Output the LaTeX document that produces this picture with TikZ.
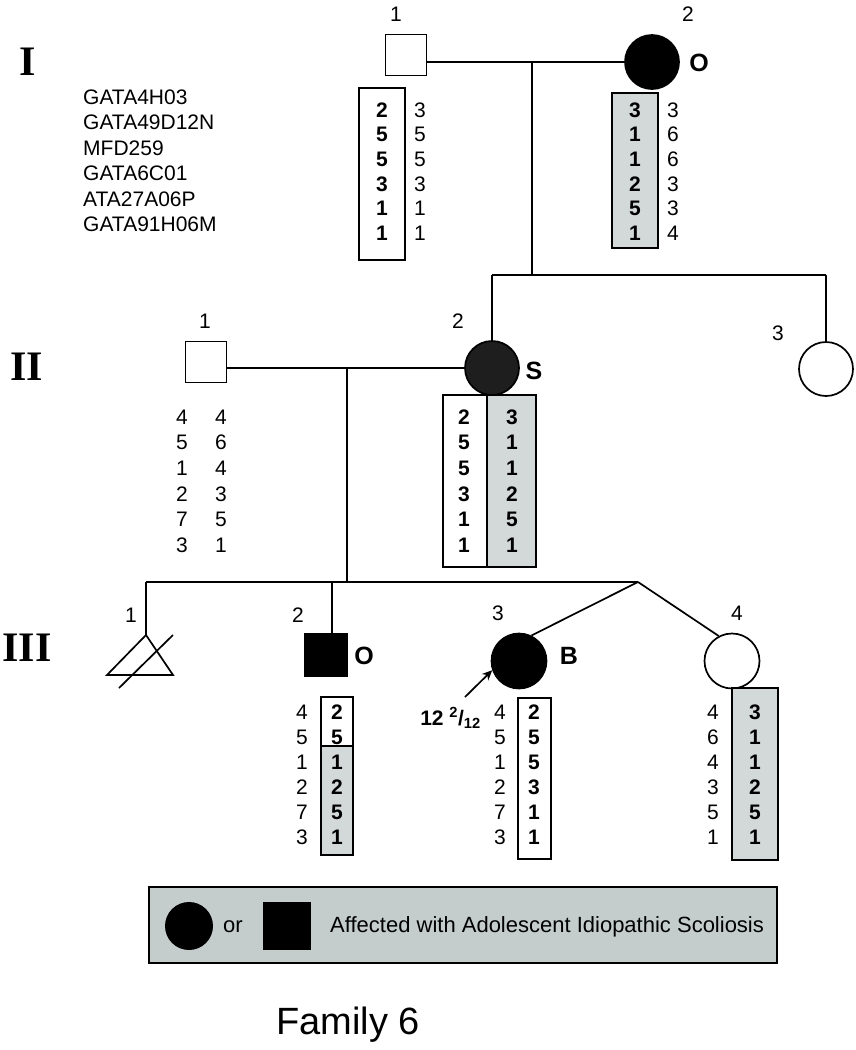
\documentclass[tikz,border=0pt]{standalone}
\usepackage{fontspec}
\setmainfont{Liberation Sans}
\newfontfamily\romanfont{Liberation Serif}
\usetikzlibrary{arrows.meta,calc}
\definecolor{allelegrey}{HTML}{D3D8D8}
\definecolor{legendgrey}{HTML}{C4CCCC}
\definecolor{darkfill}{HTML}{1E1E1E}
\tikzset{
 male/.style={draw, line width=1.7pt, rectangle, minimum size=41pt, inner sep=0pt},
 female/.style={draw, line width=1.7pt, circle, minimum size=54pt, inner sep=0pt},
 num/.style={font=\fontsize{21}{21}\selectfont, inner sep=0pt},
 bnum/.style={font=\fontsize{21}{21}\selectfont\bfseries, inner sep=0pt},
 lbl/.style={font=\fontsize{25}{25}\selectfont\bfseries, inner sep=0pt},
 gen/.style={font=\fontsize{42}{42}\selectfont\romanfont\bfseries, inner sep=0pt},
 abox/.style={draw, line width=1.5pt},
 greybox/.style={draw, line width=1.5pt, fill=allelegrey},
 conn/.style={line width=1.7pt},
}
\begin{document}
\begin{tikzpicture}[x=1pt,y=-1pt]
\useasboundingbox (0,0) rectangle (856,1050);

% generation numerals
\node[gen] (gI) at (28,62) {I};
\node[gen] (gII) at (27,367) {II};
\node[gen] (gIII) at (27,648) {III};

% marker names
\foreach \m [count=\i] in {GATA4H03,GATA49D12N,MFD259,GATA6C01,ATA27A06P,GATA91H06M}
  \node[num, anchor=west] (mk\i) at (83,{97+25.5*(\i-1)}) {\m};

% ---------- Generation I ----------
\node[male] (s11) at (406,55) {};
\node[female, fill=black] (c12) at (652,62) {};
\node[num] (l11) at (396,14) {1};
\node[num] (l12) at (688,14) {2};
\node[lbl] (o12) at (699,63) {O};
\coordinate (m1) at (532,62);
\coordinate (sib2) at (532,275);
\draw[conn] (s11.east |- c12.west) -- (c12.west);
\draw[conn] (m1) -- (sib2);

\draw[abox] (359,88) rectangle (405,260);
\draw[greybox] (612,93) rectangle (658,248);
\foreach \a/\b [count=\i] in {2/3,5/5,5/5,3/3,1/1,1/1}{
  \node[bnum] (i1a\i) at (382,{110+24.6*(\i-1)}) {\a};
  \node[num] (i1b\i) at (420,{110+24.6*(\i-1)}) {\b};
}
\foreach \a/\b [count=\i] in {3/3,1/6,1/6,2/3,5/3,1/4}{
  \node[bnum] (i2a\i) at (635,{110+24.6*(\i-1)}) {\a};
  \node[num] (i2b\i) at (673,{110+24.6*(\i-1)}) {\b};
}

% ---------- Generation II ----------
\node[male] (s21) at (206,362) {};
\node[female, fill=darkfill] (c22) at (492,368) {};
\node[female] (c23) at (826,369) {};
\node[num] (l21) at (205,321) {1};
\node[num] (l22) at (458,321) {2};
\node[num] (l23) at (778,333) {3};
\node[lbl] (s22) at (534,371) {S};
\draw[conn] (c22.north |- sib2) -- (c23.north |- sib2);
\draw[conn] (c22.north |- sib2) -- (c22.north);
\draw[conn] (c23.north |- sib2) -- (c23.north);
\draw[conn] (s21.east |- c22.west) -- (c22.west);
\coordinate (m2) at (347,368);
\coordinate (sib3) at (347,582);
\draw[conn] (m2) -- (sib3);

\foreach \a/\b [count=\i] in {4/4,5/6,1/4,2/3,7/5,3/1}{
  \node[num] (i21a\i) at (182,{417+25.6*(\i-1)}) {\a};
  \node[num] (i21b\i) at (221,{417+25.6*(\i-1)}) {\b};
}
\draw[abox] (443,395) rectangle (487,567);
\draw[greybox] (487,395) rectangle (536,567);
\foreach \a/\b [count=\i] in {2/3,5/1,5/1,3/2,1/5,1/1}{
  \node[bnum] (i22a\i) at (464,{417+25.6*(\i-1)}) {\a};
  \node[bnum] (i22b\i) at (512,{417+25.6*(\i-1)}) {\b};
}

% ---------- Generation III ----------
\coordinate (t1) at (146,582);
\coordinate (tw) at (638,582);
\coordinate (t2) at (332,582);
\coordinate (a31) at (146,635);
\draw[conn] (t1) -- (tw);
\draw[conn] (t1) -- (a31);
\draw[line width=1.7pt, line join=miter] (a31) -- (107,675) -- (173,675) -- cycle;
\draw[conn] (119,688) -- (173,635);
\node[num] (l31) at (131,615) {1};

\node[male, fill=black, minimum size=42pt] (s32) at (326,655) {};
\draw[conn] (t2) -- (t2 |- s32.north);
\node[num] (l32) at (298,615) {2};
\node[lbl] (o32) at (364,656) {O};

\node[female, fill=black, minimum size=55pt] (c33) at (519,661) {};
\node[female, minimum size=55pt] (c34) at (732,661) {};
\draw[conn] (tw) -- (c33.64);
\draw[conn] (tw) -- (c34.118);
\node[num] (l33) at (498,613) {3};
\node[num] (l34) at (737,613) {4};
\node[lbl] (b33) at (569,656) {B};

\coordinate (prtail) at (465,697);
\draw[conn, -{Stealth[length=10pt,width=9pt]}] (prtail) -- (c33.199);
\node[bnum, anchor=east] (prob) at (481,718) {12 \textsuperscript{2}/\textsubscript{12}};

% III-2 alleles
\draw[abox] (321,697) rectangle (353,746);
\draw[greybox] (321,746) rectangle (353,855);
\foreach \a/\b [count=\i] in {4/2,5/5,1/1,2/2,7/5,3/1}{
  \node[num] (i32a\i) at (302,{712+25*(\i-1)}) {\a};
  \node[bnum] (i32b\i) at (337,{712+25*(\i-1)}) {\b};
}
% III-3 alleles
\draw[abox] (518,698) rectangle (551,859);
\foreach \a/\b [count=\i] in {4/2,5/5,1/5,2/3,7/1,3/1}{
  \node[num] (i33a\i) at (500,{712+25*(\i-1)}) {\a};
  \node[bnum] (i33b\i) at (534,{712+25*(\i-1)}) {\b};
}
% III-4 alleles
\draw[greybox] (732,688) rectangle (778,860);
\foreach \a/\b [count=\i] in {4/3,6/1,4/1,3/2,5/5,1/1}{
  \node[num] (i34a\i) at (713,{712+25*(\i-1)}) {\a};
  \node[bnum] (i34b\i) at (755,{712+25*(\i-1)}) {\b};
}

% ---------- Legend ----------
\node[draw, fill=legendgrey, line width=1.7pt, minimum width=628pt, minimum height=76pt, inner sep=0pt] (legend) at (463,925) {};
\node[circle, fill=black, minimum size=48pt, inner sep=0pt] (legc) at (189,926) {};
\node[font=\fontsize{22}{22}\selectfont, inner sep=0pt] (legor) at (233,927) {or};
\node[rectangle, fill=black, minimum size=48pt, inner sep=0pt] (legs) at (287,926) {};
\node[font=\fontsize{22}{22}\selectfont, inner sep=0pt, anchor=west] (legt) at (330,927) {Affected with Adolescent Idiopathic Scoliosis};

\node[font=\fontsize{38}{38}\selectfont, inner sep=0pt] (fam) at (348,1025) {Family 6};
\end{tikzpicture}
\end{document}
